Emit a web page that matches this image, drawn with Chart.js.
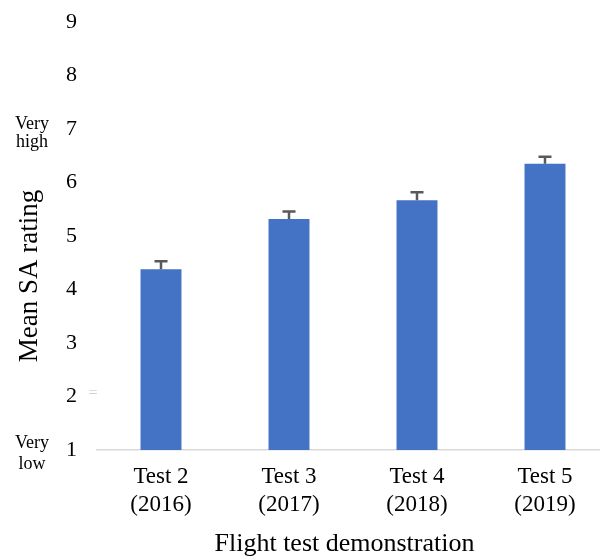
<!DOCTYPE html>
<html>
<head>
<meta charset="utf-8">
<script src="https://cdn.jsdelivr.net/npm/chart.js@4.4.1/dist/chart.umd.min.js"></script>
<style>
html,body{margin:0;padding:0;background:#fff;overflow:hidden;}
#wrap{width:612px;height:558px;position:relative;}
</style>
</head>
<body>
<div id="wrap"><canvas id="c"></canvas></div>
<script>
const categories = [["Test 2","(2016)"],["Test 3","(2017)"],["Test 4","(2018)"],["Test 5","(2019)"]];
const meanSA = [4.38, 5.32, 5.67, 6.35];
const errorSA = [0.15, 0.14, 0.15, 0.13];
const yTicks = [1,2,3,4,5,6,7,8,9];
const yTitle = "Mean SA rating";
const xTitle = "Flight test demonstration";
const FONT = "'Liberation Serif', 'Times New Roman', serif";

const extras = {
  id: 'extras',
  afterDatasetsDraw(chart) {
    const ctx = chart.ctx;
    const y = chart.scales.y;
    const meta = chart.getDatasetMeta(0);
    ctx.save();
    ctx.strokeStyle = '#595959';
    ctx.lineWidth = 2.5;
    meta.data.forEach((bar, i) => {
      const cx = bar.x;
      const top = y.getPixelForValue(meanSA[i] + errorSA[i]);
      const base = y.getPixelForValue(meanSA[i]);
      ctx.beginPath();
      ctx.moveTo(cx, base);
      ctx.lineTo(cx, top);
      ctx.moveTo(cx - 6.5, top);
      ctx.lineTo(cx + 6.5, top);
      ctx.stroke();
    });
    ctx.restore();
  },
  afterDraw(chart) {
    const ctx = chart.ctx;
    ctx.save();
    ctx.fillStyle = '#000';
    ctx.textAlign = 'center';
    ctx.textBaseline = 'alphabetic';
    ctx.font = "18px " + FONT;
    ctx.fillText('Very', 32, 129);
    ctx.fillText('high', 32, 147);
    ctx.fillText('Very', 32, 448);
    ctx.fillText('low', 32, 469);
    ctx.fillStyle = '#d0d0d0';
    ctx.font = "16px " + FONT;
    ctx.fillText('=', 93, 398);
    ctx.fillStyle = '#000';
    ctx.font = "26px " + FONT;
    ctx.fillText(xTitle, 344.5, 551);
    ctx.translate(37, 276);
    ctx.rotate(-Math.PI / 2);
    ctx.font = "27px " + FONT;
    ctx.fillText(yTitle, 0, 0);
    ctx.restore();
  }
};

new Chart(document.getElementById('c'), {
  type: 'bar',
  data: {
    labels: categories,
    datasets: [{
      data: meanSA,
      backgroundColor: '#4472C4',
      borderWidth: 0,
      barPercentage: 0.32,
      categoryPercentage: 1.0
    }]
  },
  options: {
    responsive: true,
    maintainAspectRatio: false,
    animation: false,
    devicePixelRatio: 1,
    layout: { padding: { left: 0, right: 3, top: 22, bottom: 0 } },
    plugins: { legend: { display: false }, tooltip: { enabled: false }, title: { display: false } },
    scales: {
      x: {
        grid: { display: false, drawTicks: false },
        border: { display: true, color: '#d9d9d9', width: 1.5 },
        ticks: { color: '#000', font: { family: FONT, size: 23, lineHeight: 1.22 }, padding: 13, maxRotation: 0, autoSkip: false },
        afterFit(s) { s.height = 108; s.paddingLeft = 0; s.paddingRight = 0; }
      },
      y: {
        min: 1, max: 9,
        grid: { display: false, drawTicks: false },
        border: { display: false },
        afterBuildTicks(s) { s.ticks = yTicks.map(v => ({ value: v })); },
        ticks: { color: '#000', font: { family: FONT, size: 22 }, padding: 20, stepSize: 1 },
        afterFit(s) { s.width = 97; s.paddingTop = 0; s.paddingBottom = 0; }
      }
    }
  },
  plugins: [extras]
});
</script>
</body>
</html>
